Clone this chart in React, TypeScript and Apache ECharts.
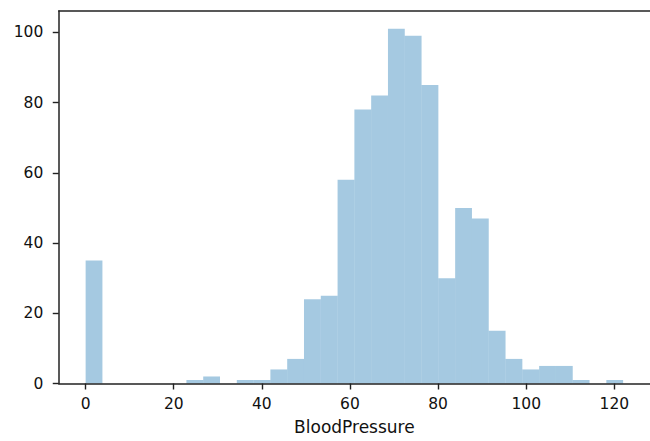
import React, { useEffect, useRef } from "react";
import * as echarts from "echarts";

// Histogram of BloodPressure: 32 equal bins spanning 0..122
const binStart = 0;
const binEnd = 122;
const binCounts = [
  35, 0, 0, 0, 0, 0, 1, 2, 0, 1, 1, 4, 7, 24, 25, 58,
  78, 82, 101, 99, 85, 30, 50, 47, 15, 7, 4, 5, 5, 1, 0, 1,
];
const xTickValues = [0, 20, 40, 60, 80, 100, 120];
const yTickValues = [0, 20, 40, 60, 80, 100];
const xAxisName = "BloodPressure";

const X_MIN = -6.1;
const X_MAX = 128.1;
const Y_MAX = 106.05;

export default function App() {
  const ref = useRef<HTMLDivElement>(null);
  useEffect(() => {
    if (!ref.current) return;
    const chart = echarts.init(ref.current, null, { renderer: "svg" });
    const n = binCounts.length;
    const w = (binEnd - binStart) / n;
    const data = binCounts.map((c, i) => [binStart + i * w, binStart + (i + 1) * w, c]);
    const font = "DejaVu Sans";
    const ink = "#111";
    const spine = { show: true, onZero: false, lineStyle: { color: "#222", width: 1.5 } };
    chart.setOption({
      animation: false,
      backgroundColor: "#fff",
      grid: { left: 58.75, top: 11, width: 599.5, height: 372.5, containLabel: false },
      xAxis: [
        {
          type: "value",
          min: X_MIN,
          max: X_MAX,
          z: 10,
          axisLine: spine,
          splitLine: { show: false },
          axisTick: {
            show: true,
            length: 6,
            customValues: xTickValues,
            lineStyle: { color: "#222", width: 1.4 },
          },
          axisLabel: {
            customValues: xTickValues,
            margin: 12,
            fontFamily: font,
            fontSize: 15.5,
            color: ink,
          },
          name: xAxisName,
          nameLocation: "middle",
          nameGap: 35,
          nameTextStyle: { fontFamily: font, fontSize: 17, color: ink },
        },
        {
          type: "value",
          position: "top",
          min: X_MIN,
          max: X_MAX,
          z: 10,
          axisLine: spine,
          axisTick: { show: false },
          axisLabel: { show: false },
          splitLine: { show: false },
        },
      ],
      yAxis: {
        type: "value",
        position: "left",
        min: 0,
        max: Y_MAX,
        z: 10,
        axisLine: spine,
        splitLine: { show: false },
        axisTick: {
          show: true,
          length: 6,
          customValues: yTickValues,
          lineStyle: { color: "#222", width: 1.4 },
        },
        axisLabel: {
          customValues: yTickValues,
          margin: 15.5,
          fontFamily: font,
          fontSize: 15.5,
          color: ink,
        },
      },
      series: [
        {
          type: "custom",
          xAxisIndex: 0,
          yAxisIndex: 0,
          z: 2,
          encode: { x: [0, 1], y: 2 },
          data,
          renderItem: (params: any, api: any) => {
            const x0 = api.value(0);
            const x1 = api.value(1);
            const c = api.value(2);
            const p0 = api.coord([x0, c]);
            const p1 = api.coord([x1, 0]);
            return {
              type: "rect",
              shape: { x: p0[0], y: p0[1], width: p1[0] - p0[0], height: p1[1] - p0[1] },
              style: { fill: "rgba(31,119,180,0.4)" },
            };
          },
        },
      ],
    });
    return () => chart.dispose();
  }, []);
  return (
    <div
      ref={ref}
      style={{ position: "fixed", left: 0, top: 0, width: 650, height: 441, background: "#fff" }}
    />
  );
}
